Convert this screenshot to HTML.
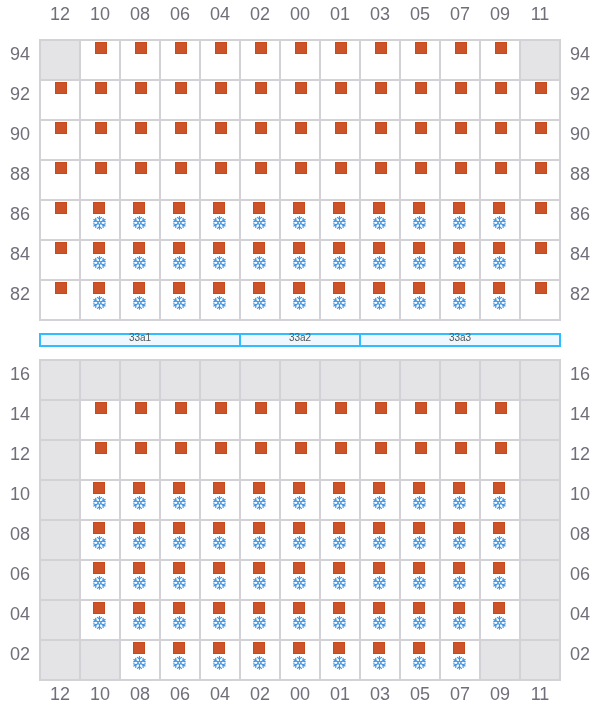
<!DOCTYPE html>
<html><head><meta charset="utf-8"><title>Bay plan</title>
<style>html,body{margin:0;padding:0;background:#fff}body{width:600px;height:720px;overflow:hidden}svg{display:block}</style>
</head><body>
<svg width="600" height="720" viewBox="0 0 600 720">
<defs><g id="sf"><path d="M0.00 -3.90L2.05 -5.50M0.00 -3.90L-2.05 -5.50M5.59 3.22L-5.59 -3.22M-3.38 -1.95L-3.74 -4.52M-3.38 -1.95L-5.79 -0.98M5.59 -3.23L-5.59 3.23M-3.38 1.95L-5.79 0.98M-3.38 1.95L-3.74 4.52M-0.00 3.90L-2.05 5.50M-0.00 3.90L2.05 5.50M3.38 1.95L3.74 4.52M3.38 1.95L5.79 0.98M3.38 -1.95L5.79 -0.98M3.38 -1.95L3.74 -4.52" fill="none" stroke="#3f93e0" stroke-width="1.2" stroke-linecap="round" stroke-opacity="1"/><path d="M-0.00 6.45L0.00 -6.45" fill="none" stroke="#3f93e0" stroke-width="1.0" stroke-linecap="round"/><path d="M0.00 -1.80L-1.56 -0.90L-1.56 0.90L-0.00 1.80L1.56 0.90L1.56 -0.90Z" fill="none" stroke="#3f93e0" stroke-width="0.8" stroke-linejoin="round"/><circle cx="0" cy="0" r="0.85" fill="#fff"/></g></defs>
<rect width="600" height="720" fill="#fff"/>
<g font-family="'Liberation Sans', Arial, sans-serif">
<g font-size="18" fill="#6f6f7a" text-anchor="middle">
<text x="60" y="20">12</text><text x="60" y="700">12</text>
<text x="100" y="20">10</text><text x="100" y="700">10</text>
<text x="140" y="20">08</text><text x="140" y="700">08</text>
<text x="180" y="20">06</text><text x="180" y="700">06</text>
<text x="220" y="20">04</text><text x="220" y="700">04</text>
<text x="260" y="20">02</text><text x="260" y="700">02</text>
<text x="300" y="20">00</text><text x="300" y="700">00</text>
<text x="340" y="20">01</text><text x="340" y="700">01</text>
<text x="380" y="20">03</text><text x="380" y="700">03</text>
<text x="420" y="20">05</text><text x="420" y="700">05</text>
<text x="460" y="20">07</text><text x="460" y="700">07</text>
<text x="500" y="20">09</text><text x="500" y="700">09</text>
<text x="540" y="20">11</text><text x="540" y="700">11</text>
</g>
<rect x="520" y="40" width="40" height="40" fill="#e4e4e6"/>
<rect x="40" y="40" width="40" height="40" fill="#e4e4e6"/>
<path d="M40 39V321M80 39V321M120 39V321M160 39V321M200 39V321M240 39V321M280 39V321M320 39V321M360 39V321M400 39V321M440 39V321M480 39V321M520 39V321M560 39V321M39 40H561M39 80H561M39 120H561M39 160H561M39 200H561M39 240H561M39 280H561M39 320H561" stroke="#d2d2d6" stroke-width="2" fill="none"/>
<rect x="55.5" y="202.5" width="11" height="11" fill="#cc5229" stroke="#c74a18"/>
<rect x="413.5" y="202.5" width="11" height="11" fill="#cc5229" stroke="#c74a18"/>
<use href="#sf" x="419.45" y="222.85"/>
<rect x="335.5" y="162.5" width="11" height="11" fill="#cc5229" stroke="#c74a18"/>
<rect x="213.5" y="242.5" width="11" height="11" fill="#cc5229" stroke="#c74a18"/>
<use href="#sf" x="219.45" y="262.85"/>
<rect x="293.5" y="202.5" width="11" height="11" fill="#cc5229" stroke="#c74a18"/>
<use href="#sf" x="299.45" y="222.85"/>
<rect x="93.5" y="242.5" width="11" height="11" fill="#cc5229" stroke="#c74a18"/>
<use href="#sf" x="99.45" y="262.85"/>
<rect x="453.5" y="242.5" width="11" height="11" fill="#cc5229" stroke="#c74a18"/>
<use href="#sf" x="459.45" y="262.85"/>
<rect x="255.5" y="42.5" width="11" height="11" fill="#cc5229" stroke="#c74a18"/>
<rect x="135.5" y="122.5" width="11" height="11" fill="#cc5229" stroke="#c74a18"/>
<rect x="55.5" y="82.5" width="11" height="11" fill="#cc5229" stroke="#c74a18"/>
<rect x="495.5" y="122.5" width="11" height="11" fill="#cc5229" stroke="#c74a18"/>
<rect x="415.5" y="82.5" width="11" height="11" fill="#cc5229" stroke="#c74a18"/>
<rect x="495.5" y="42.5" width="11" height="11" fill="#cc5229" stroke="#c74a18"/>
<rect x="375.5" y="122.5" width="11" height="11" fill="#cc5229" stroke="#c74a18"/>
<rect x="133.5" y="282.5" width="11" height="11" fill="#cc5229" stroke="#c74a18"/>
<use href="#sf" x="139.45" y="302.85"/>
<rect x="493.5" y="282.5" width="11" height="11" fill="#cc5229" stroke="#c74a18"/>
<use href="#sf" x="499.45" y="302.85"/>
<rect x="373.5" y="282.5" width="11" height="11" fill="#cc5229" stroke="#c74a18"/>
<use href="#sf" x="379.45" y="302.85"/>
<rect x="133.5" y="202.5" width="11" height="11" fill="#cc5229" stroke="#c74a18"/>
<use href="#sf" x="139.45" y="222.85"/>
<rect x="55.5" y="162.5" width="11" height="11" fill="#cc5229" stroke="#c74a18"/>
<rect x="415.5" y="162.5" width="11" height="11" fill="#cc5229" stroke="#c74a18"/>
<rect x="293.5" y="242.5" width="11" height="11" fill="#cc5229" stroke="#c74a18"/>
<use href="#sf" x="299.45" y="262.85"/>
<rect x="373.5" y="202.5" width="11" height="11" fill="#cc5229" stroke="#c74a18"/>
<use href="#sf" x="379.45" y="222.85"/>
<rect x="295.5" y="162.5" width="11" height="11" fill="#cc5229" stroke="#c74a18"/>
<rect x="173.5" y="242.5" width="11" height="11" fill="#cc5229" stroke="#c74a18"/>
<use href="#sf" x="179.45" y="262.85"/>
<rect x="535.5" y="242.5" width="11" height="11" fill="#cc5229" stroke="#c74a18"/>
<rect x="335.5" y="42.5" width="11" height="11" fill="#cc5229" stroke="#c74a18"/>
<rect x="215.5" y="122.5" width="11" height="11" fill="#cc5229" stroke="#c74a18"/>
<rect x="135.5" y="82.5" width="11" height="11" fill="#cc5229" stroke="#c74a18"/>
<rect x="215.5" y="42.5" width="11" height="11" fill="#cc5229" stroke="#c74a18"/>
<rect x="95.5" y="122.5" width="11" height="11" fill="#cc5229" stroke="#c74a18"/>
<rect x="495.5" y="82.5" width="11" height="11" fill="#cc5229" stroke="#c74a18"/>
<rect x="455.5" y="122.5" width="11" height="11" fill="#cc5229" stroke="#c74a18"/>
<rect x="375.5" y="82.5" width="11" height="11" fill="#cc5229" stroke="#c74a18"/>
<rect x="213.5" y="282.5" width="11" height="11" fill="#cc5229" stroke="#c74a18"/>
<use href="#sf" x="219.45" y="302.85"/>
<rect x="453.5" y="282.5" width="11" height="11" fill="#cc5229" stroke="#c74a18"/>
<use href="#sf" x="459.45" y="302.85"/>
<rect x="135.5" y="162.5" width="11" height="11" fill="#cc5229" stroke="#c74a18"/>
<rect x="93.5" y="202.5" width="11" height="11" fill="#cc5229" stroke="#c74a18"/>
<use href="#sf" x="99.45" y="222.85"/>
<rect x="495.5" y="162.5" width="11" height="11" fill="#cc5229" stroke="#c74a18"/>
<rect x="453.5" y="202.5" width="11" height="11" fill="#cc5229" stroke="#c74a18"/>
<use href="#sf" x="459.45" y="222.85"/>
<rect x="375.5" y="162.5" width="11" height="11" fill="#cc5229" stroke="#c74a18"/>
<rect x="253.5" y="242.5" width="11" height="11" fill="#cc5229" stroke="#c74a18"/>
<use href="#sf" x="259.45" y="262.85"/>
<rect x="415.5" y="42.5" width="11" height="11" fill="#cc5229" stroke="#c74a18"/>
<rect x="215.5" y="82.5" width="11" height="11" fill="#cc5229" stroke="#c74a18"/>
<rect x="295.5" y="42.5" width="11" height="11" fill="#cc5229" stroke="#c74a18"/>
<rect x="175.5" y="122.5" width="11" height="11" fill="#cc5229" stroke="#c74a18"/>
<rect x="535.5" y="122.5" width="11" height="11" fill="#cc5229" stroke="#c74a18"/>
<rect x="455.5" y="82.5" width="11" height="11" fill="#cc5229" stroke="#c74a18"/>
<rect x="293.5" y="282.5" width="11" height="11" fill="#cc5229" stroke="#c74a18"/>
<use href="#sf" x="299.45" y="302.85"/>
<rect x="173.5" y="282.5" width="11" height="11" fill="#cc5229" stroke="#c74a18"/>
<use href="#sf" x="179.45" y="302.85"/>
<rect x="535.5" y="282.5" width="11" height="11" fill="#cc5229" stroke="#c74a18"/>
<rect x="215.5" y="162.5" width="11" height="11" fill="#cc5229" stroke="#c74a18"/>
<rect x="173.5" y="202.5" width="11" height="11" fill="#cc5229" stroke="#c74a18"/>
<use href="#sf" x="179.45" y="222.85"/>
<rect x="95.5" y="162.5" width="11" height="11" fill="#cc5229" stroke="#c74a18"/>
<rect x="535.5" y="202.5" width="11" height="11" fill="#cc5229" stroke="#c74a18"/>
<rect x="455.5" y="162.5" width="11" height="11" fill="#cc5229" stroke="#c74a18"/>
<rect x="333.5" y="242.5" width="11" height="11" fill="#cc5229" stroke="#c74a18"/>
<use href="#sf" x="339.45" y="262.85"/>
<rect x="135.5" y="42.5" width="11" height="11" fill="#cc5229" stroke="#c74a18"/>
<rect x="295.5" y="82.5" width="11" height="11" fill="#cc5229" stroke="#c74a18"/>
<rect x="375.5" y="42.5" width="11" height="11" fill="#cc5229" stroke="#c74a18"/>
<rect x="255.5" y="122.5" width="11" height="11" fill="#cc5229" stroke="#c74a18"/>
<rect x="175.5" y="82.5" width="11" height="11" fill="#cc5229" stroke="#c74a18"/>
<rect x="535.5" y="82.5" width="11" height="11" fill="#cc5229" stroke="#c74a18"/>
<rect x="253.5" y="282.5" width="11" height="11" fill="#cc5229" stroke="#c74a18"/>
<use href="#sf" x="259.45" y="302.85"/>
<rect x="253.5" y="202.5" width="11" height="11" fill="#cc5229" stroke="#c74a18"/>
<use href="#sf" x="259.45" y="222.85"/>
<rect x="175.5" y="162.5" width="11" height="11" fill="#cc5229" stroke="#c74a18"/>
<rect x="55.5" y="242.5" width="11" height="11" fill="#cc5229" stroke="#c74a18"/>
<rect x="535.5" y="162.5" width="11" height="11" fill="#cc5229" stroke="#c74a18"/>
<rect x="413.5" y="242.5" width="11" height="11" fill="#cc5229" stroke="#c74a18"/>
<use href="#sf" x="419.45" y="262.85"/>
<rect x="493.5" y="202.5" width="11" height="11" fill="#cc5229" stroke="#c74a18"/>
<use href="#sf" x="499.45" y="222.85"/>
<rect x="95.5" y="42.5" width="11" height="11" fill="#cc5229" stroke="#c74a18"/>
<rect x="455.5" y="42.5" width="11" height="11" fill="#cc5229" stroke="#c74a18"/>
<rect x="335.5" y="122.5" width="11" height="11" fill="#cc5229" stroke="#c74a18"/>
<rect x="255.5" y="82.5" width="11" height="11" fill="#cc5229" stroke="#c74a18"/>
<rect x="93.5" y="282.5" width="11" height="11" fill="#cc5229" stroke="#c74a18"/>
<use href="#sf" x="99.45" y="302.85"/>
<rect x="333.5" y="282.5" width="11" height="11" fill="#cc5229" stroke="#c74a18"/>
<use href="#sf" x="339.45" y="302.85"/>
<rect x="333.5" y="202.5" width="11" height="11" fill="#cc5229" stroke="#c74a18"/>
<use href="#sf" x="339.45" y="222.85"/>
<rect x="255.5" y="162.5" width="11" height="11" fill="#cc5229" stroke="#c74a18"/>
<rect x="133.5" y="242.5" width="11" height="11" fill="#cc5229" stroke="#c74a18"/>
<use href="#sf" x="139.45" y="262.85"/>
<rect x="213.5" y="202.5" width="11" height="11" fill="#cc5229" stroke="#c74a18"/>
<use href="#sf" x="219.45" y="222.85"/>
<rect x="493.5" y="242.5" width="11" height="11" fill="#cc5229" stroke="#c74a18"/>
<use href="#sf" x="499.45" y="262.85"/>
<rect x="373.5" y="242.5" width="11" height="11" fill="#cc5229" stroke="#c74a18"/>
<use href="#sf" x="379.45" y="262.85"/>
<rect x="95.5" y="82.5" width="11" height="11" fill="#cc5229" stroke="#c74a18"/>
<rect x="175.5" y="42.5" width="11" height="11" fill="#cc5229" stroke="#c74a18"/>
<rect x="55.5" y="122.5" width="11" height="11" fill="#cc5229" stroke="#c74a18"/>
<rect x="415.5" y="122.5" width="11" height="11" fill="#cc5229" stroke="#c74a18"/>
<rect x="335.5" y="82.5" width="11" height="11" fill="#cc5229" stroke="#c74a18"/>
<rect x="295.5" y="122.5" width="11" height="11" fill="#cc5229" stroke="#c74a18"/>
<rect x="55.5" y="282.5" width="11" height="11" fill="#cc5229" stroke="#c74a18"/>
<rect x="413.5" y="282.5" width="11" height="11" fill="#cc5229" stroke="#c74a18"/>
<use href="#sf" x="419.45" y="302.85"/>
<g font-size="18" fill="#6f6f7a" text-anchor="middle">
<text x="20" y="60">94</text><text x="580" y="60">94</text>
<text x="20" y="100">92</text><text x="580" y="100">92</text>
<text x="20" y="140">90</text><text x="580" y="140">90</text>
<text x="20" y="180">88</text><text x="580" y="180">88</text>
<text x="20" y="220">86</text><text x="580" y="220">86</text>
<text x="20" y="260">84</text><text x="580" y="260">84</text>
<text x="20" y="300">82</text><text x="580" y="300">82</text>
</g>
<rect x="80" y="360" width="40" height="40" fill="#e4e4e6"/>
<rect x="320" y="360" width="40" height="40" fill="#e4e4e6"/>
<rect x="520" y="600" width="40" height="40" fill="#e4e4e6"/>
<rect x="40" y="520" width="40" height="40" fill="#e4e4e6"/>
<rect x="200" y="360" width="40" height="40" fill="#e4e4e6"/>
<rect x="440" y="360" width="40" height="40" fill="#e4e4e6"/>
<rect x="40" y="640" width="40" height="40" fill="#e4e4e6"/>
<rect x="520" y="520" width="40" height="40" fill="#e4e4e6"/>
<rect x="120" y="360" width="40" height="40" fill="#e4e4e6"/>
<rect x="520" y="640" width="40" height="40" fill="#e4e4e6"/>
<rect x="240" y="360" width="40" height="40" fill="#e4e4e6"/>
<rect x="40" y="400" width="40" height="40" fill="#e4e4e6"/>
<rect x="360" y="360" width="40" height="40" fill="#e4e4e6"/>
<rect x="480" y="360" width="40" height="40" fill="#e4e4e6"/>
<rect x="520" y="400" width="40" height="40" fill="#e4e4e6"/>
<rect x="80" y="640" width="40" height="40" fill="#e4e4e6"/>
<rect x="40" y="360" width="40" height="40" fill="#e4e4e6"/>
<rect x="160" y="360" width="40" height="40" fill="#e4e4e6"/>
<rect x="400" y="360" width="40" height="40" fill="#e4e4e6"/>
<rect x="40" y="440" width="40" height="40" fill="#e4e4e6"/>
<rect x="280" y="360" width="40" height="40" fill="#e4e4e6"/>
<rect x="520" y="360" width="40" height="40" fill="#e4e4e6"/>
<rect x="40" y="480" width="40" height="40" fill="#e4e4e6"/>
<rect x="40" y="560" width="40" height="40" fill="#e4e4e6"/>
<rect x="520" y="440" width="40" height="40" fill="#e4e4e6"/>
<rect x="40" y="600" width="40" height="40" fill="#e4e4e6"/>
<rect x="520" y="480" width="40" height="40" fill="#e4e4e6"/>
<rect x="480" y="640" width="40" height="40" fill="#e4e4e6"/>
<rect x="520" y="560" width="40" height="40" fill="#e4e4e6"/>
<path d="M40 359V681M80 359V681M120 359V681M160 359V681M200 359V681M240 359V681M280 359V681M320 359V681M360 359V681M400 359V681M440 359V681M480 359V681M520 359V681M560 359V681M39 360H561M39 400H561M39 440H561M39 480H561M39 520H561M39 560H561M39 600H561M39 640H561M39 680H561" stroke="#d2d2d6" stroke-width="2" fill="none"/>
<rect x="213.5" y="482.5" width="11" height="11" fill="#cc5229" stroke="#c74a18"/>
<use href="#sf" x="219.45" y="502.85"/>
<rect x="173.5" y="522.5" width="11" height="11" fill="#cc5229" stroke="#c74a18"/>
<use href="#sf" x="179.45" y="542.85"/>
<rect x="413.5" y="522.5" width="11" height="11" fill="#cc5229" stroke="#c74a18"/>
<use href="#sf" x="419.45" y="542.85"/>
<rect x="93.5" y="482.5" width="11" height="11" fill="#cc5229" stroke="#c74a18"/>
<use href="#sf" x="99.45" y="502.85"/>
<rect x="333.5" y="482.5" width="11" height="11" fill="#cc5229" stroke="#c74a18"/>
<use href="#sf" x="339.45" y="502.85"/>
<rect x="213.5" y="562.5" width="11" height="11" fill="#cc5229" stroke="#c74a18"/>
<use href="#sf" x="219.45" y="582.85"/>
<rect x="293.5" y="522.5" width="11" height="11" fill="#cc5229" stroke="#c74a18"/>
<use href="#sf" x="299.45" y="542.85"/>
<rect x="93.5" y="562.5" width="11" height="11" fill="#cc5229" stroke="#c74a18"/>
<use href="#sf" x="99.45" y="582.85"/>
<rect x="453.5" y="482.5" width="11" height="11" fill="#cc5229" stroke="#c74a18"/>
<use href="#sf" x="459.45" y="502.85"/>
<rect x="333.5" y="562.5" width="11" height="11" fill="#cc5229" stroke="#c74a18"/>
<use href="#sf" x="339.45" y="582.85"/>
<rect x="453.5" y="562.5" width="11" height="11" fill="#cc5229" stroke="#c74a18"/>
<use href="#sf" x="459.45" y="582.85"/>
<rect x="135.5" y="442.5" width="11" height="11" fill="#cc5229" stroke="#c74a18"/>
<rect x="295.5" y="402.5" width="11" height="11" fill="#cc5229" stroke="#c74a18"/>
<rect x="255.5" y="442.5" width="11" height="11" fill="#cc5229" stroke="#c74a18"/>
<rect x="495.5" y="442.5" width="11" height="11" fill="#cc5229" stroke="#c74a18"/>
<rect x="175.5" y="402.5" width="11" height="11" fill="#cc5229" stroke="#c74a18"/>
<rect x="415.5" y="402.5" width="11" height="11" fill="#cc5229" stroke="#c74a18"/>
<rect x="375.5" y="442.5" width="11" height="11" fill="#cc5229" stroke="#c74a18"/>
<rect x="213.5" y="642.5" width="11" height="11" fill="#cc5229" stroke="#c74a18"/>
<use href="#sf" x="219.45" y="662.85"/>
<rect x="133.5" y="602.5" width="11" height="11" fill="#cc5229" stroke="#c74a18"/>
<use href="#sf" x="139.45" y="622.85"/>
<rect x="333.5" y="642.5" width="11" height="11" fill="#cc5229" stroke="#c74a18"/>
<use href="#sf" x="339.45" y="662.85"/>
<rect x="253.5" y="602.5" width="11" height="11" fill="#cc5229" stroke="#c74a18"/>
<use href="#sf" x="259.45" y="622.85"/>
<rect x="493.5" y="602.5" width="11" height="11" fill="#cc5229" stroke="#c74a18"/>
<use href="#sf" x="499.45" y="622.85"/>
<rect x="453.5" y="642.5" width="11" height="11" fill="#cc5229" stroke="#c74a18"/>
<use href="#sf" x="459.45" y="662.85"/>
<rect x="373.5" y="602.5" width="11" height="11" fill="#cc5229" stroke="#c74a18"/>
<use href="#sf" x="379.45" y="622.85"/>
<rect x="133.5" y="522.5" width="11" height="11" fill="#cc5229" stroke="#c74a18"/>
<use href="#sf" x="139.45" y="542.85"/>
<rect x="253.5" y="522.5" width="11" height="11" fill="#cc5229" stroke="#c74a18"/>
<use href="#sf" x="259.45" y="542.85"/>
<rect x="173.5" y="482.5" width="11" height="11" fill="#cc5229" stroke="#c74a18"/>
<use href="#sf" x="179.45" y="502.85"/>
<rect x="413.5" y="482.5" width="11" height="11" fill="#cc5229" stroke="#c74a18"/>
<use href="#sf" x="419.45" y="502.85"/>
<rect x="293.5" y="562.5" width="11" height="11" fill="#cc5229" stroke="#c74a18"/>
<use href="#sf" x="299.45" y="582.85"/>
<rect x="373.5" y="522.5" width="11" height="11" fill="#cc5229" stroke="#c74a18"/>
<use href="#sf" x="379.45" y="542.85"/>
<rect x="293.5" y="482.5" width="11" height="11" fill="#cc5229" stroke="#c74a18"/>
<use href="#sf" x="299.45" y="502.85"/>
<rect x="173.5" y="562.5" width="11" height="11" fill="#cc5229" stroke="#c74a18"/>
<use href="#sf" x="179.45" y="582.85"/>
<rect x="413.5" y="562.5" width="11" height="11" fill="#cc5229" stroke="#c74a18"/>
<use href="#sf" x="419.45" y="582.85"/>
<rect x="493.5" y="522.5" width="11" height="11" fill="#cc5229" stroke="#c74a18"/>
<use href="#sf" x="499.45" y="542.85"/>
<rect x="215.5" y="442.5" width="11" height="11" fill="#cc5229" stroke="#c74a18"/>
<rect x="135.5" y="402.5" width="11" height="11" fill="#cc5229" stroke="#c74a18"/>
<rect x="95.5" y="442.5" width="11" height="11" fill="#cc5229" stroke="#c74a18"/>
<rect x="335.5" y="442.5" width="11" height="11" fill="#cc5229" stroke="#c74a18"/>
<rect x="255.5" y="402.5" width="11" height="11" fill="#cc5229" stroke="#c74a18"/>
<rect x="495.5" y="402.5" width="11" height="11" fill="#cc5229" stroke="#c74a18"/>
<rect x="93.5" y="602.5" width="11" height="11" fill="#cc5229" stroke="#c74a18"/>
<use href="#sf" x="99.45" y="622.85"/>
<rect x="455.5" y="442.5" width="11" height="11" fill="#cc5229" stroke="#c74a18"/>
<rect x="375.5" y="402.5" width="11" height="11" fill="#cc5229" stroke="#c74a18"/>
<rect x="213.5" y="602.5" width="11" height="11" fill="#cc5229" stroke="#c74a18"/>
<use href="#sf" x="219.45" y="622.85"/>
<rect x="173.5" y="642.5" width="11" height="11" fill="#cc5229" stroke="#c74a18"/>
<use href="#sf" x="179.45" y="662.85"/>
<rect x="413.5" y="642.5" width="11" height="11" fill="#cc5229" stroke="#c74a18"/>
<use href="#sf" x="419.45" y="662.85"/>
<rect x="333.5" y="602.5" width="11" height="11" fill="#cc5229" stroke="#c74a18"/>
<use href="#sf" x="339.45" y="622.85"/>
<rect x="293.5" y="642.5" width="11" height="11" fill="#cc5229" stroke="#c74a18"/>
<use href="#sf" x="299.45" y="662.85"/>
<rect x="453.5" y="602.5" width="11" height="11" fill="#cc5229" stroke="#c74a18"/>
<use href="#sf" x="459.45" y="622.85"/>
<rect x="133.5" y="482.5" width="11" height="11" fill="#cc5229" stroke="#c74a18"/>
<use href="#sf" x="139.45" y="502.85"/>
<rect x="93.5" y="522.5" width="11" height="11" fill="#cc5229" stroke="#c74a18"/>
<use href="#sf" x="99.45" y="542.85"/>
<rect x="333.5" y="522.5" width="11" height="11" fill="#cc5229" stroke="#c74a18"/>
<use href="#sf" x="339.45" y="542.85"/>
<rect x="253.5" y="482.5" width="11" height="11" fill="#cc5229" stroke="#c74a18"/>
<use href="#sf" x="259.45" y="502.85"/>
<rect x="133.5" y="562.5" width="11" height="11" fill="#cc5229" stroke="#c74a18"/>
<use href="#sf" x="139.45" y="582.85"/>
<rect x="213.5" y="522.5" width="11" height="11" fill="#cc5229" stroke="#c74a18"/>
<use href="#sf" x="219.45" y="542.85"/>
<rect x="493.5" y="482.5" width="11" height="11" fill="#cc5229" stroke="#c74a18"/>
<use href="#sf" x="499.45" y="502.85"/>
<rect x="373.5" y="482.5" width="11" height="11" fill="#cc5229" stroke="#c74a18"/>
<use href="#sf" x="379.45" y="502.85"/>
<rect x="253.5" y="562.5" width="11" height="11" fill="#cc5229" stroke="#c74a18"/>
<use href="#sf" x="259.45" y="582.85"/>
<rect x="493.5" y="562.5" width="11" height="11" fill="#cc5229" stroke="#c74a18"/>
<use href="#sf" x="499.45" y="582.85"/>
<rect x="453.5" y="522.5" width="11" height="11" fill="#cc5229" stroke="#c74a18"/>
<use href="#sf" x="459.45" y="542.85"/>
<rect x="373.5" y="562.5" width="11" height="11" fill="#cc5229" stroke="#c74a18"/>
<use href="#sf" x="379.45" y="582.85"/>
<rect x="95.5" y="402.5" width="11" height="11" fill="#cc5229" stroke="#c74a18"/>
<rect x="215.5" y="402.5" width="11" height="11" fill="#cc5229" stroke="#c74a18"/>
<rect x="175.5" y="442.5" width="11" height="11" fill="#cc5229" stroke="#c74a18"/>
<rect x="415.5" y="442.5" width="11" height="11" fill="#cc5229" stroke="#c74a18"/>
<rect x="335.5" y="402.5" width="11" height="11" fill="#cc5229" stroke="#c74a18"/>
<rect x="295.5" y="442.5" width="11" height="11" fill="#cc5229" stroke="#c74a18"/>
<rect x="455.5" y="402.5" width="11" height="11" fill="#cc5229" stroke="#c74a18"/>
<rect x="133.5" y="642.5" width="11" height="11" fill="#cc5229" stroke="#c74a18"/>
<use href="#sf" x="139.45" y="662.85"/>
<rect x="293.5" y="602.5" width="11" height="11" fill="#cc5229" stroke="#c74a18"/>
<use href="#sf" x="299.45" y="622.85"/>
<rect x="253.5" y="642.5" width="11" height="11" fill="#cc5229" stroke="#c74a18"/>
<use href="#sf" x="259.45" y="662.85"/>
<rect x="173.5" y="602.5" width="11" height="11" fill="#cc5229" stroke="#c74a18"/>
<use href="#sf" x="179.45" y="622.85"/>
<rect x="413.5" y="602.5" width="11" height="11" fill="#cc5229" stroke="#c74a18"/>
<use href="#sf" x="419.45" y="622.85"/>
<rect x="373.5" y="642.5" width="11" height="11" fill="#cc5229" stroke="#c74a18"/>
<use href="#sf" x="379.45" y="662.85"/>
<g font-size="18" fill="#6f6f7a" text-anchor="middle">
<text x="20" y="380">16</text><text x="580" y="380">16</text>
<text x="20" y="420">14</text><text x="580" y="420">14</text>
<text x="20" y="460">12</text><text x="580" y="460">12</text>
<text x="20" y="500">10</text><text x="580" y="500">10</text>
<text x="20" y="540">08</text><text x="580" y="540">08</text>
<text x="20" y="580">06</text><text x="580" y="580">06</text>
<text x="20" y="620">04</text><text x="580" y="620">04</text>
<text x="20" y="660">02</text><text x="580" y="660">02</text>
</g>
<rect x="40" y="334" width="200" height="12" fill="#f0f8ff" stroke="#33bbff" stroke-width="2"/>
<rect x="240" y="334" width="120" height="12" fill="#f0f8ff" stroke="#33bbff" stroke-width="2"/>
<rect x="360" y="334" width="200" height="12" fill="#f0f8ff" stroke="#33bbff" stroke-width="2"/>
<text x="140.0" y="341" font-size="10" fill="#555" text-anchor="middle">33a1</text>
<text x="300.0" y="341" font-size="10" fill="#555" text-anchor="middle">33a2</text>
<text x="460.0" y="341" font-size="10" fill="#555" text-anchor="middle">33a3</text>
</g></svg>
</body></html>
